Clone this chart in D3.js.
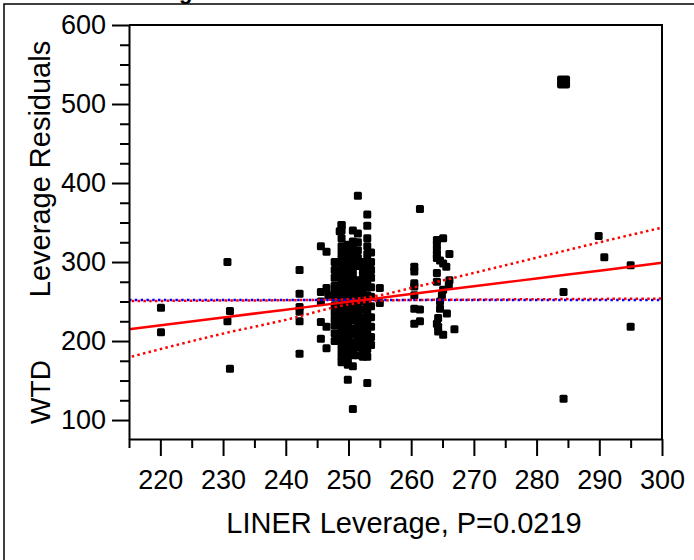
<!DOCTYPE html>
<html lang="en">
<head>
    <meta charset="UTF-8">
    <title>Leverage Plot</title>
    <style>
        body {
            margin: 0;
            padding: 0;
            background: #fff;
        }

        svg text {
            font-family: Arial, "Liberation Sans", sans-serif;
            fill: #000;
        }

        .axis path,
        .axis line {
            stroke: #000;
            stroke-width: 2;
        }
    </style>
</head>
<body>
    <svg id="chart"></svg>

    <script src="https://cdnjs.cloudflare.com/ajax/libs/d3/7.9.0/d3.min.js"></script>
    <script>
        // tick values
        const xMajorTicks = [220, 230, 240, 250, 260, 270, 280, 290, 300];
        const xMinorTicks = [215, 225, 235, 245, 255, 265, 275, 285, 295];
        const yMajorTicks = [100, 200, 300, 400, 500, 600];
        const yMinorTicks = [125, 150, 175, 225, 250, 275, 325, 350, 375, 425, 450, 475, 525, 550, 575];

        // dense cluster: one x per column, residuals stacked
        const columnX = [247.8, 248.9, 249.9, 250.7, 251.5, 252.3, 253.0, 253.6];
        const columnY = [
            [300, 290, 280, 270, 262, 255, 245, 236, 228, 220, 210, 200],
            [347, 340, 330, 320, 312, 304, 296, 288, 280, 272, 264, 256, 246, 238, 230, 222, 214, 205, 196, 188, 180, 173],
            [322, 314, 306, 298, 290, 282, 274, 266, 258, 250, 242, 234, 226, 218, 210, 200, 192, 184, 176, 170, 151],
            [340, 326, 318, 310, 300, 292, 284, 276, 268, 260, 250, 242, 234, 226, 216, 208, 198, 190, 182, 168, 114],
            [384, 336, 325, 315, 305, 295, 277, 269, 261, 253, 244, 235, 226, 217, 208, 200, 192, 182],
            [300, 292, 284, 276, 268, 260, 250, 240, 230, 222, 214, 206, 198, 190, 180],
            [360, 346, 330, 320, 310, 302, 292, 284, 276, 268, 258, 248, 238, 228, 220, 210, 200, 190, 180, 147],
            [312, 300, 290, 280, 268, 256, 244, 230, 218, 205, 195]
        ];

        // the other points
        const pointX = [
            220.1, 220.1, 230.7, 231.1, 230.7, 231.1,
            242.2, 242.2, 242.2, 242.2, 242.2, 242.2,
            245.6, 246.5, 246.5, 246.8, 245.6, 245.6, 246.5, 245.6, 245.6, 246.5, 248.9, 248.6,
            255.0, 255.0,
            261.4, 260.5, 260.5, 260.5, 260.5, 260.5, 260.5, 260.5, 261.4, 261.4,
            264.1, 264.1, 264.1, 264.1, 265.1, 266.1, 264.1, 264.6, 265.1, 265.6,
            264.1, 264.1, 266.1, 266.0, 265.1, 264.9, 264.6, 264.6, 265.7, 264.3, 264.1, 264.3, 264.3, 265.1, 266.9,
            289.9, 290.8, 295.0, 284.3, 295.0, 284.3
        ];
        const pointY = [
            242, 211, 300, 238, 225, 165,
            290, 260, 243, 237, 225, 184,
            320, 313, 267, 258, 262, 250, 218, 224, 203, 191, 347, 339,
            267, 248,
            367, 294, 288, 273, 269, 258, 241, 222, 240, 225,
            328, 322, 315, 309, 330, 310, 305, 302, 298, 294,
            286, 275, 277, 271, 265, 258, 250, 241, 235, 229, 222, 218, 212, 208, 215,
            333, 306, 296, 262, 218, 127
        ];

        // highlighted point
        const bigX = 284.3;
        const bigY = 528;

        // fit, confidence curves and mean, read at these x
        const lineX = [215, 230, 240, 250, 255, 260, 270, 280, 290, 300];
        const fitY = [215, 229.8, 239.7, 249.6, 254.5, 259.5, 269.3, 279.2, 289.1, 299];
        const upperY = [250.6, 251.2, 251.6, 252.9, 257.9, 267.1, 286.2, 305.5, 324.9, 343.5];
        const lowerY = [179.4, 209.4, 226.8, 246.3, 251.1, 251.9, 252.4, 252.9, 253.3, 253.7];
        const meanY = 252;

        const width = 694;
        const height = 560;
        const plotLeft = 129, plotRight = 662, plotTop = 25, plotBottom = 439;

        const svg = d3.select('#chart')
            .attr('width', width)
            .attr('height', height);

        const x = d3.scaleLinear().domain([215, 300]).range([plotLeft, plotRight]);
        const y = d3.scaleLinear().domain([76, 600]).range([plotBottom, plotTop]);

        // outer frame (partly cut off)
        svg.append('path')
            .attr('d', `M4,${height} V4 H${width}`)
            .attr('fill', 'none')
            .attr('stroke', '#000')
            .attr('stroke-width', 1.5);

        // title, only its descender shows
        svg.append('text')
            .attr('x', 108)
            .attr('y', -1)
            .attr('font-size', 22)
            .attr('font-weight', 'bold')
            .text('Leverage Plot');

        // points
        const points = [];
        columnX.forEach((cx, i) => columnY[i].forEach(v => points.push([cx, v])));
        pointX.forEach((px, i) => points.push([px, pointY[i]]));

        svg.append('g')
            .selectAll('rect')
            .data(points)
            .enter().append('rect')
            .attr('x', d => x(d[0]) - 4)
            .attr('y', d => y(d[1]) - 4)
            .attr('width', 8)
            .attr('height', 8)
            .attr('rx', 1.5)
            .attr('fill', '#000');

        svg.append('rect')
            .attr('x', x(bigX) - 6.5)
            .attr('y', y(bigY) - 6.5)
            .attr('width', 13)
            .attr('height', 13)
            .attr('rx', 2)
            .attr('fill', '#000');

        // lines
        const lineGen = d3.line()
            .x((d, i) => x(lineX[i]))
            .y(d => y(d))
            .curve(d3.curveMonotoneX);

        svg.append('line')
            .attr('x1', x(215)).attr('x2', x(300))
            .attr('y1', y(meanY)).attr('y2', y(meanY))
            .attr('stroke', '#0000ff')
            .attr('stroke-width', 2.5)
            .attr('stroke-dasharray', '2.5,3.3');

        [upperY, lowerY].forEach(band => {
            svg.append('path')
                .attr('d', lineGen(band))
                .attr('fill', 'none')
                .attr('stroke', '#ff0000')
                .attr('stroke-width', 2.5)
                .attr('stroke-dasharray', '2.5,3.3')
                .attr('stroke-dashoffset', 3);
        });

        svg.append('path')
            .attr('d', lineGen(fitY))
            .attr('fill', 'none')
            .attr('stroke', '#ff0000')
            .attr('stroke-width', 2.5);

        // axes
        const axisFont = 27;

        const yMinor = svg.append('g')
            .attr('class', 'axis')
            .attr('transform', `translate(${plotLeft},0)`)
            .call(d3.axisLeft(y).tickValues(yMinorTicks).tickSize(9).tickSizeOuter(0).tickFormat(''));
        yMinor.select('.domain').remove();

        const yAxis = svg.append('g')
            .attr('class', 'axis')
            .attr('transform', `translate(${plotLeft},0)`)
            .call(d3.axisLeft(y).tickValues(yMajorTicks).tickSize(17).tickSizeOuter(0).tickPadding(6));
        yAxis.selectAll('text').attr('font-size', axisFont).style('font-family', 'Arial, "Liberation Sans", sans-serif');

        const xMinor = svg.append('g')
            .attr('class', 'axis')
            .attr('transform', `translate(0,${plotBottom})`)
            .call(d3.axisBottom(x).tickValues(xMinorTicks).tickSize(9).tickSizeOuter(0).tickFormat(''));
        xMinor.select('.domain').remove();

        const xAxis = svg.append('g')
            .attr('class', 'axis')
            .attr('transform', `translate(0,${plotBottom})`)
            .call(d3.axisBottom(x).tickValues(xMajorTicks).tickSize(17).tickSizeOuter(0).tickPadding(14));
        xAxis.selectAll('text').attr('font-size', axisFont).style('font-family', 'Arial, "Liberation Sans", sans-serif');

        // top and right edges of the frame
        svg.append('path')
            .attr('d', `M${plotLeft},${plotTop} H${plotRight} V${plotBottom}`)
            .attr('fill', 'none')
            .attr('stroke', '#000')
            .attr('stroke-width', 2);

        // axis titles
        svg.append('text')
            .attr('x', 404)
            .attr('y', 533)
            .attr('text-anchor', 'middle')
            .attr('font-size', 29)
            .text('LINER Leverage, P=0.0219');

        svg.append('text')
            .attr('transform', 'translate(50,169) rotate(-90)')
            .attr('text-anchor', 'middle')
            .attr('font-size', 29)
            .text('Leverage Residuals');

        svg.append('text')
            .attr('transform', 'translate(50,392) rotate(-90)')
            .attr('text-anchor', 'middle')
            .attr('font-size', 28)
            .text('WTD');
    </script>
</body>
</html>
